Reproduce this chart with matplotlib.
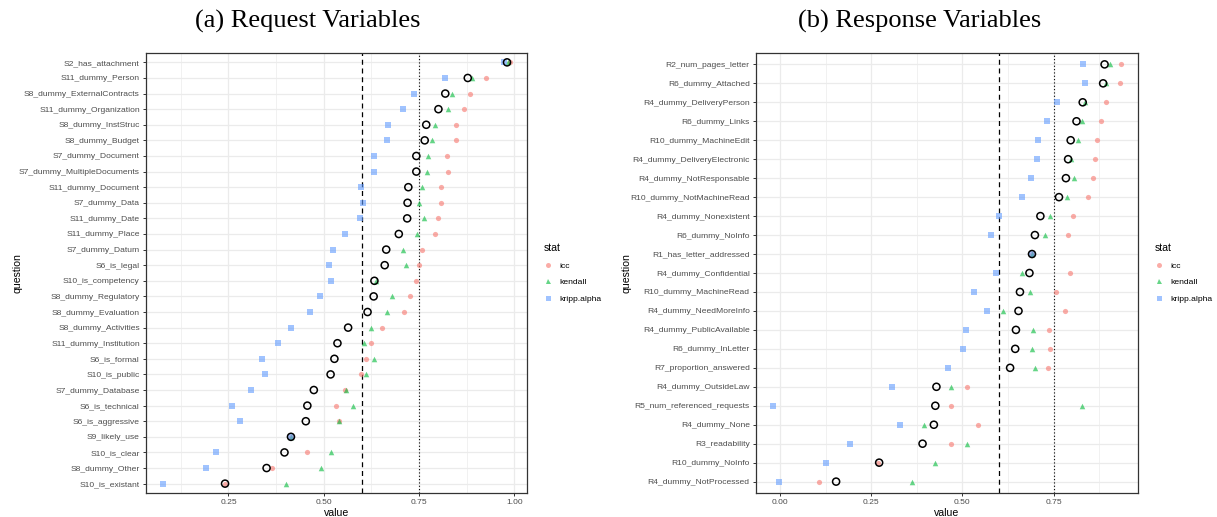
import matplotlib
matplotlib.use("Agg")
import matplotlib.pyplot as plt
from matplotlib.lines import Line2D
import numpy as np

# ---------------- data ----------------
req_questions = ["S2_has_attachment", "S11_dummy_Person", "S8_dummy_ExternalContracts",
                 "S11_dummy_Organization", "S8_dummy_InstStruc", "S8_dummy_Budget",
                 "S7_dummy_Document", "S7_dummy_MultipleDocuments", "S11_dummy_Document",
                 "S7_dummy_Data", "S11_dummy_Date", "S11_dummy_Place", "S7_dummy_Datum",
                 "S6_is_legal", "S10_is_competency", "S8_dummy_Regulatory",
                 "S8_dummy_Evaluation", "S8_dummy_Activities", "S11_dummy_Institution",
                 "S6_is_formal", "S10_is_public", "S7_dummy_Database", "S6_is_technical",
                 "S6_is_aggressive", "S9_likely_use", "S10_is_clear", "S8_dummy_Other",
                 "S10_is_existant"]
req_icc = [0.988, 0.926, 0.884, 0.867, 0.846, 0.847, 0.824, 0.827, 0.808, 0.808,
           0.800, 0.791, 0.757, 0.751, 0.743, 0.727, 0.711, 0.654, 0.625, 0.612,
           0.597, 0.557, 0.533, 0.539, 0.414, 0.455, 0.365, 0.241]
req_kendall = [0.983, 0.888, 0.837, 0.827, 0.792, 0.783, 0.773, 0.770, 0.757, 0.749,
               0.764, 0.744, 0.708, 0.715, 0.637, 0.679, 0.666, 0.624, 0.606, 0.632,
               0.610, 0.559, 0.578, 0.541, 0.414, 0.519, 0.493, 0.401]
req_kripp = [0.972, 0.819, 0.736, 0.707, 0.669, 0.666, 0.633, 0.633, 0.598, 0.604,
             0.596, 0.557, 0.525, 0.515, 0.520, 0.489, 0.465, 0.415, 0.379, 0.339,
             0.347, 0.308, 0.260, 0.281, 0.414, 0.218, 0.192, 0.079]
req_mean = [0.981, 0.878, 0.819, 0.801, 0.769, 0.765, 0.743, 0.743, 0.722, 0.720,
            0.719, 0.697, 0.664, 0.660, 0.633, 0.631, 0.615, 0.564, 0.536, 0.528,
            0.518, 0.474, 0.457, 0.453, 0.414, 0.397, 0.350, 0.241]

resp_questions = ["R2_num_pages_letter", "R6_dummy_Attached", "R4_dummy_DeliveryPerson",
                  "R6_dummy_Links", "R10_dummy_MachineEdit", "R4_dummy_DeliveryElectronic",
                  "R4_dummy_NotResponsable", "R10_dummy_NotMachineRead",
                  "R4_dummy_Nonexistent", "R6_dummy_NoInfo", "R1_has_letter_addressed",
                  "R4_dummy_Confidential", "R10_dummy_MachineRead", "R4_dummy_NeedMoreInfo",
                  "R4_dummy_PublicAvailable", "R6_dummy_InLetter", "R7_proportion_answered",
                  "R4_dummy_OutsideLaw", "R5_num_referenced_requests", "R4_dummy_None",
                  "R3_readability", "R10_dummy_NoInfo", "R4_dummy_NotProcessed"]
resp_icc = [0.934, 0.931, 0.894, 0.881, 0.869, 0.865, 0.858, 0.844, 0.803, 0.791,
            0.691, 0.795, 0.756, 0.781, 0.737, 0.741, 0.734, 0.513, 0.469, 0.542,
            0.469, 0.270, 0.106]
resp_kendall = [0.906, 0.893, 0.837, 0.828, 0.816, 0.798, 0.806, 0.788, 0.740, 0.726,
                0.691, 0.664, 0.685, 0.612, 0.693, 0.691, 0.699, 0.469, 0.828, 0.395,
                0.512, 0.424, 0.361]
resp_kripp = [0.831, 0.836, 0.760, 0.732, 0.708, 0.705, 0.689, 0.664, 0.601, 0.579,
              0.691, 0.593, 0.533, 0.567, 0.511, 0.503, 0.462, 0.306, -0.018, 0.330,
              0.193, 0.125, -0.003]
resp_mean = [0.890, 0.886, 0.830, 0.813, 0.797, 0.790, 0.784, 0.765, 0.714, 0.699,
             0.691, 0.684, 0.658, 0.654, 0.647, 0.645, 0.631, 0.429, 0.426, 0.422,
             0.391, 0.272, 0.154]

req_ticks = [0.25, 0.50, 0.75, 1.00]
req_ticklabels = ["0.25", "0.50", "0.75", "1.00"]
resp_ticks = [0.00, 0.25, 0.50, 0.75]
resp_ticklabels = ["0.00", "0.25", "0.50", "0.75"]

stat_names = ["icc", "kendall", "kripp.alpha"]
stat_colors = ["#F8766D", "#00BA38", "#619CFF"]
stat_markers = ["o", "^", "s"]

# ---------------- plotting ----------------
W, H = 1217, 517
fig = plt.figure(figsize=(W / 100, H / 100), dpi=100)
sans = ["Liberation Sans", "DejaVu Sans"]
serif = ["Liberation Serif", "DejaVu Serif"]


def draw_panel(rect, questions, icc, kendall, kripp, mean, ticks, ticklabels, title, title_x):
    ax = fig.add_axes(rect)
    n = len(questions)
    ypos = np.arange(n)[::-1]
    allv = np.concatenate([icc, kendall, kripp])
    lo, hi = allv.min(), allv.max()
    pad = (hi - lo) * 0.05
    ax.set_xlim(lo - pad, hi + pad)
    ax.set_ylim(-0.6, n - 0.4)

    # grid
    for y in ypos:
        ax.axhline(y, color="#EBEBEB", lw=0.9, zorder=0)
    xmin, xmax = ax.get_xlim()
    for t in np.arange(-0.125, 1.2, 0.125):
        if xmin < t < xmax:
            major = abs((t / 0.25) - round(t / 0.25)) < 1e-6
            ax.axvline(t, color="#EBEBEB", lw=0.9 if major else 0.5, zorder=0)

    ax.axvline(0.6, color="black", ls=(0, (4, 3)), lw=0.9, zorder=1)
    ax.axvline(0.75, color="black", ls=(0, (1, 2)), lw=0.8, zorder=1)

    for vals, c, m, s in zip([icc, kendall, kripp], stat_colors, stat_markers, [14, 16, 13]):
        ax.scatter(vals, ypos, color=c, marker=m, s=s, alpha=0.6, linewidths=0, zorder=3)
    ax.scatter(mean, ypos, facecolors="none", edgecolors="black", marker="o", s=26,
               linewidths=1.1, zorder=4)

    ax.set_yticks(ypos)
    ax.set_yticklabels(questions, fontsize=6.1, color="#4D4D4D", family=sans)
    ax.set_xticks(ticks)
    ax.set_xticklabels(ticklabels, fontsize=6.1, color="#4D4D4D", family=sans)
    ax.tick_params(length=2.5, width=0.7, color="#333333", pad=2)
    for sp in ax.spines.values():
        sp.set_color("#333333")
        sp.set_linewidth(0.9)
    ax.set_xlabel("value", fontsize=7.6, family=sans)
    ax.xaxis.set_label_coords(0.5, -0.033)
    ax.set_ylabel("question", fontsize=7.6, family=sans)
    ax.yaxis.set_label_coords(-0.325, 0.5)

    handles = [Line2D([], [], ls="", marker=m, color=c, alpha=0.6, markersize=3.6,
                      markeredgewidth=0)
               for m, c in zip(stat_markers, stat_colors)]
    leg = ax.legend(handles, stat_names, title="stat", frameon=False,
                    loc="center left", bbox_to_anchor=(1.035, 0.5),
                    prop={"family": sans, "size": 6.1},
                    title_fontproperties={"family": sans, "size": 7.6},
                    handlelength=1.0, handletextpad=0.9, labelspacing=1.0, borderaxespad=0)
    leg._legend_box.align = "left"

    fig.text(title_x, 1 - 21 / H, title, ha="center", va="center", fontsize=19, family=serif)
    return ax


ax1 = draw_panel([146 / W, 24 / H, 381 / W, 440 / H], req_questions, req_icc, req_kendall,
                 req_kripp, req_mean, req_ticks, req_ticklabels, "(a) Request Variables",
                 308 / W)
ax2 = draw_panel([756 / W, 24 / H, 382 / W, 440 / H], resp_questions, resp_icc, resp_kendall,
                 resp_kripp, resp_mean, resp_ticks, resp_ticklabels, "(b) Response Variables",
                 920 / W)

fig.savefig("out.png", dpi=100)
